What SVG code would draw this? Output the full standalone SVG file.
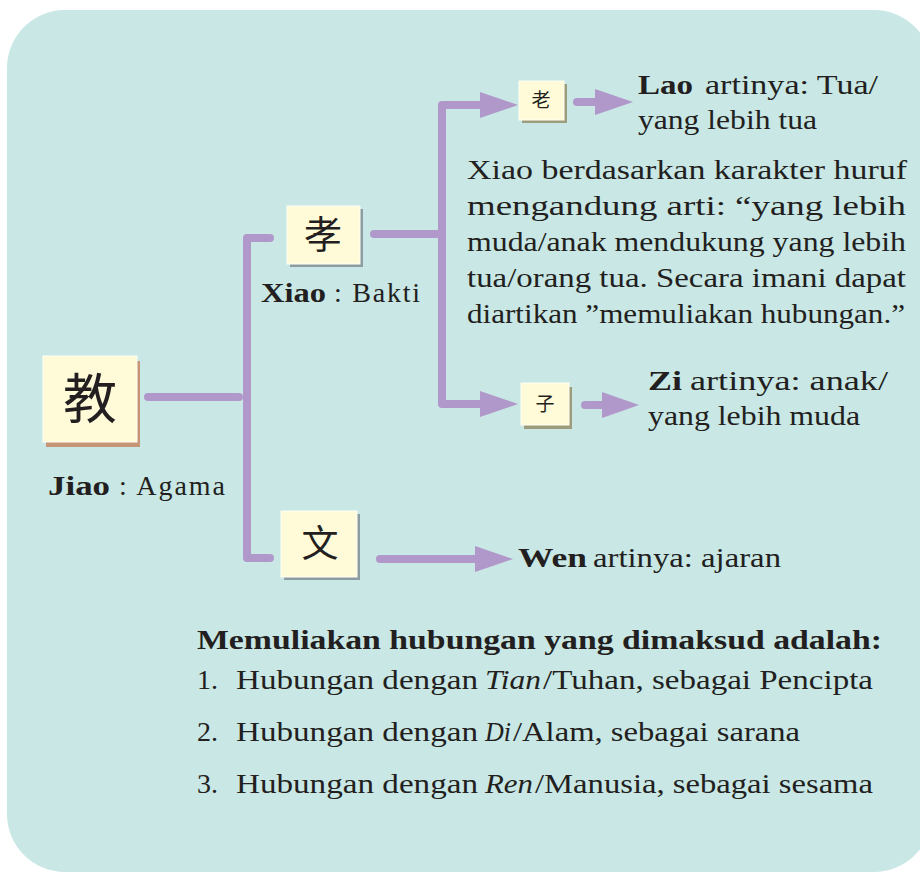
<svg xmlns="http://www.w3.org/2000/svg" width="920" height="873" viewBox="0 0 920 873">
<style>
  .t{font-family:"Liberation Serif","DejaVu Serif",serif;font-size:28px;fill:#231f20}
  .b{font-weight:bold}
  .i{font-style:italic}
  .cjk{font-family:"Noto Sans CJK SC","Noto Sans CJK JP",sans-serif;fill:#231f20;text-anchor:middle}
  .box{fill:#fffbd9;stroke:#fffff2;stroke-width:1}
  .ln{fill:none;stroke:#b198ca;stroke-width:8;stroke-linecap:round;stroke-linejoin:round}
  .ah{fill:#b198ca}
</style>
<rect x="7" y="10" width="925" height="862" rx="58" ry="58" fill="#c8e7e5"/>

<g id="connectors">
  <path class="ln" d="M148,397 H239"/>
  <path class="ln" d="M270,238 H247 V558 H270"/>
  <path class="ln" d="M374,234 H442"/>
  <path class="ln" d="M482,105 H442 V404 H482"/>
  <polygon class="ah" points="480,92 518,105 480,118"/>
  <polygon class="ah" points="480,391 518,404 480,417"/>
  <path class="ln" d="M577,102 H598"/>
  <polygon class="ah" points="595,89 633,102 595,115"/>
  <path class="ln" d="M585,405 H604"/>
  <polygon class="ah" points="602,392 639,405 602,418"/>
  <path class="ln" d="M380,559 H478"/>
  <polygon class="ah" points="475,546 513,559 475,572"/>
</g>

<g id="jiao">
  <rect x="46" y="361" width="94" height="86" fill="#c69576"/>
  <rect class="box" x="43" y="356" width="94" height="86"/>
  <text class="cjk" x="90" y="419" font-size="54">教</text>
  <text class="t b" x="48" y="495" textLength="62" lengthAdjust="spacingAndGlyphs">Jiao</text>
  <text class="t" x="119" y="495" textLength="106" lengthAdjust="spacing">: Agama</text>
</g>

<g id="xiao">
  <rect x="290" y="209" width="73" height="58" fill="#8d9ca1"/>
  <rect class="box" x="287" y="206" width="73" height="58"/>
  <text class="cjk" x="323" y="248" font-size="38">孝</text>
  <text class="t b" x="261" y="302" textLength="65" lengthAdjust="spacingAndGlyphs">Xiao</text>
  <text class="t" x="334" y="302" textLength="86" lengthAdjust="spacing">: Bakti</text>
</g>

<g id="wen">
  <rect x="284" y="514" width="76" height="66" fill="#8d9ca1"/>
  <rect class="box" x="281" y="511" width="76" height="66"/>
  <text class="cjk" x="320" y="557" font-size="37">文</text>
</g>

<g id="lao">
  <rect x="522" y="84" width="45" height="39" fill="#9d9c7d"/>
  <rect class="box" x="519" y="81" width="45" height="39"/>
  <text class="cjk" x="541" y="107" font-size="19">老</text>
</g>

<g id="zi">
  <rect x="524" y="387" width="48" height="42" fill="#9d9c7d"/>
  <rect class="box" x="521" y="383" width="48" height="42"/>
  <text class="cjk" x="545" y="411" font-size="19">子</text>
</g>

<g id="lao-text">
  <text class="t b" x="638" y="94" textLength="55" lengthAdjust="spacingAndGlyphs">Lao</text>
  <text class="t" x="705" y="94" textLength="173" lengthAdjust="spacingAndGlyphs">artinya: Tua/</text>
  <text class="t" x="638" y="129" textLength="179" lengthAdjust="spacingAndGlyphs">yang lebih tua</text>
</g>

<g id="xiao-text">
  <text class="t" x="467" y="179" textLength="440" lengthAdjust="spacingAndGlyphs">Xiao berdasarkan karakter huruf</text>
  <text class="t" x="467" y="215" textLength="439" lengthAdjust="spacingAndGlyphs">mengandung arti: “yang lebih</text>
  <text class="t" x="467" y="251" textLength="439" lengthAdjust="spacingAndGlyphs">muda/anak mendukung yang lebih</text>
  <text class="t" x="467" y="287" textLength="439" lengthAdjust="spacingAndGlyphs">tua/orang tua.  Secara imani dapat</text>
  <text class="t" x="467" y="323" textLength="438" lengthAdjust="spacingAndGlyphs">diartikan ”memuliakan hubungan.”</text>
</g>

<g id="zi-text">
  <text class="t b" x="648" y="390" textLength="34" lengthAdjust="spacingAndGlyphs">Zi</text>
  <text class="t" x="690" y="390" textLength="198" lengthAdjust="spacingAndGlyphs">artinya: anak/</text>
  <text class="t" x="648" y="425" textLength="212" lengthAdjust="spacingAndGlyphs">yang lebih muda</text>
</g>

<g id="wen-text">
  <text class="t b" x="518" y="567" textLength="69" lengthAdjust="spacingAndGlyphs">Wen</text>
  <text class="t" x="593" y="567" textLength="188" lengthAdjust="spacingAndGlyphs">artinya: ajaran</text>
</g>

<g id="list">
  <text class="t b" x="197" y="649" textLength="685" lengthAdjust="spacingAndGlyphs">Memuliakan hubungan yang dimaksud adalah:</text>
  <text class="t" x="197" y="689">1.</text>
  <text class="t" x="236" y="689" textLength="242" lengthAdjust="spacingAndGlyphs">Hubungan dengan</text>
  <text class="t i" x="485" y="689" textLength="56" lengthAdjust="spacingAndGlyphs">Tian</text>
  <text class="t" x="543" y="689" textLength="330" lengthAdjust="spacingAndGlyphs">/Tuhan, sebagai Pencipta</text>
  <text class="t" x="197" y="741">2.</text>
  <text class="t" x="236" y="741" textLength="242" lengthAdjust="spacingAndGlyphs">Hubungan dengan</text>
  <text class="t i" x="485" y="741" textLength="26" lengthAdjust="spacingAndGlyphs">Di</text>
  <text class="t" x="513" y="741" textLength="287" lengthAdjust="spacingAndGlyphs">/Alam, sebagai sarana</text>
  <text class="t" x="197" y="793">3.</text>
  <text class="t" x="236" y="793" textLength="242" lengthAdjust="spacingAndGlyphs">Hubungan dengan</text>
  <text class="t i" x="485" y="793" textLength="48" lengthAdjust="spacingAndGlyphs">Ren</text>
  <text class="t" x="535" y="793" textLength="338" lengthAdjust="spacingAndGlyphs">/Manusia, sebagai sesama</text>
</g>
</svg>
